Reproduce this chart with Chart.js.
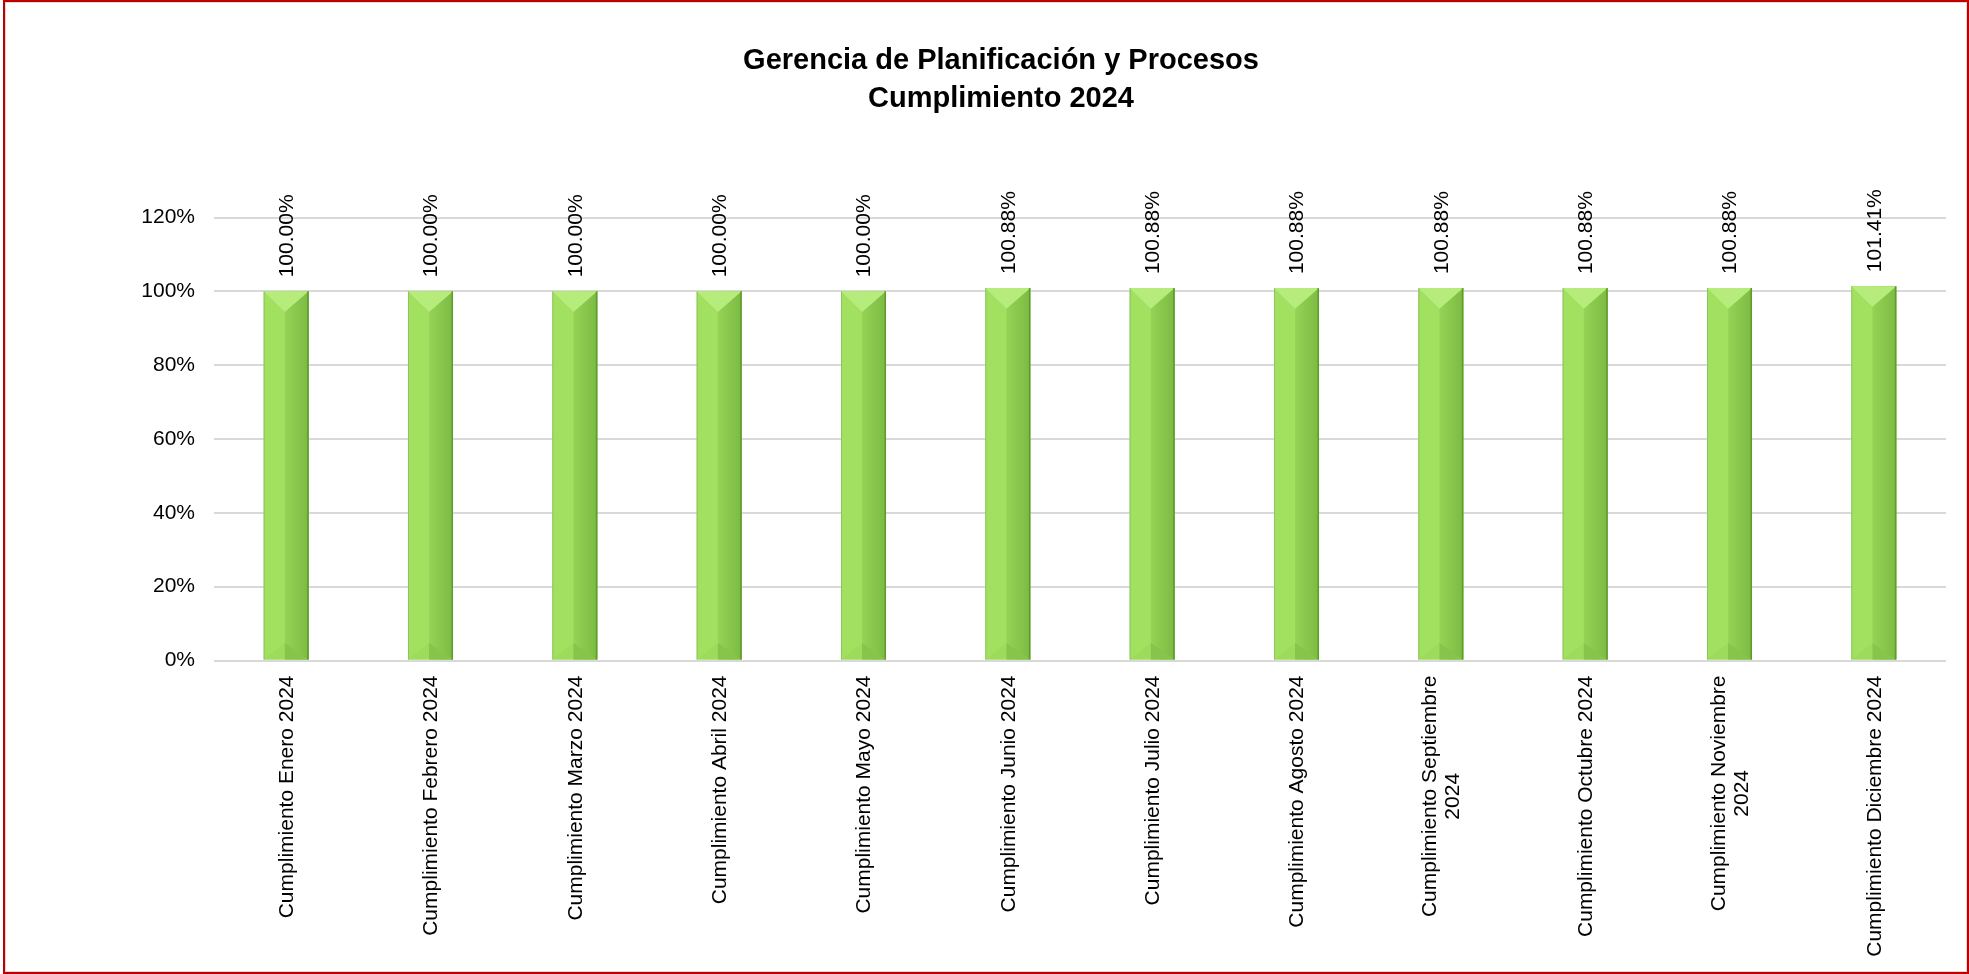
<!DOCTYPE html>
<html>
<head>
<meta charset="utf-8">
<title>Gerencia de Planificación y Procesos - Cumplimiento 2024</title>
<script src="https://cdn.jsdelivr.net/npm/chart.js@4"></script>
<style>
    html, body { margin: 0; padding: 0; background: #fff; }
    /* Marco rojo del gráfico */
    #marco {
        position: absolute; left: 3px; top: 0;
        width: 1962px; height: 970px;
        border: 2px solid #c00000;
        box-shadow: inset 1px 1px 0 #d9d9d9, inset -1px -1px 0 #d9d9d9;
    }
    #grafica { position: absolute; left: 0; top: 0; }
</style>
</head>
<body>
<div id="marco"></div>
<canvas id="grafica" width="1969" height="974"></canvas>
<script>
// Datos del gráfico
const titulo = ['Gerencia de Planificación y Procesos', 'Cumplimiento 2024'];
const categorias = [
    'Cumplimiento Enero 2024',
    'Cumplimiento Febrero 2024',
    'Cumplimiento Marzo 2024',
    'Cumplimiento Abril 2024',
    'Cumplimiento Mayo 2024',
    'Cumplimiento Junio 2024',
    'Cumplimiento Julio 2024',
    'Cumplimiento Agosto 2024',
    ['Cumplimiento Septiembre', '2024'],
    'Cumplimiento Octubre 2024',
    ['Cumplimiento Noviembre', '2024'],
    'Cumplimiento Diciembre 2024'
];
const valores = [100.00, 100.00, 100.00, 100.00, 100.00, 100.88, 100.88, 100.88, 100.88, 100.88, 100.88, 101.41];
const ejeYMin = 0;
const ejeYMax = 120;
const ejeYPaso = 20;

const fuente = "'Liberation Sans', Arial, sans-serif";
Chart.defaults.font.family = fuente;
Chart.defaults.color = '#000';

// Plugin: efecto bisel de las barras y etiquetas de datos rotadas
const biselBarras = {
    id: 'biselBarras',
    afterDatasetsDraw(chart) {
        const ctx = chart.ctx;
        const meta = chart.getDatasetMeta(0);
        meta.data.forEach((bar, i) => {
            const w = bar.width;
            const izq = bar.x - w / 2;
            const der = bar.x + w / 2;
            const arriba = bar.y;
            const abajo = bar.base;
            const centro = izq + w * 0.47;
            const pico = w * 0.46;

            ctx.save();
            // Cara derecha más oscura
            const grad = ctx.createLinearGradient(centro, 0, der, 0);
            grad.addColorStop(0, '#94d355');
            grad.addColorStop(1, '#7cba43');
            ctx.fillStyle = grad;
            ctx.fillRect(centro, arriba, der - centro, abajo - arriba);

            // Triángulo superior claro
            ctx.fillStyle = '#b6ec7c';
            ctx.beginPath();
            ctx.moveTo(izq, arriba);
            ctx.lineTo(der, arriba);
            ctx.lineTo(centro, arriba + pico);
            ctx.closePath();
            ctx.fill();

            // Triángulo inferior
            ctx.fillStyle = '#9ddb5c';
            ctx.beginPath();
            ctx.moveTo(izq, abajo);
            ctx.lineTo(centro, abajo - pico * 0.8);
            ctx.lineTo(centro, abajo);
            ctx.closePath();
            ctx.fill();
            ctx.fillStyle = '#86c44b';
            ctx.beginPath();
            ctx.moveTo(centro, abajo);
            ctx.lineTo(centro, abajo - pico * 0.8);
            ctx.lineTo(der, abajo);
            ctx.closePath();
            ctx.fill();

            // Bordes laterales
            ctx.strokeStyle = '#5f9a2e';
            ctx.lineWidth = 1.5;
            ctx.beginPath();
            ctx.moveTo(der - 0.75, arriba);
            ctx.lineTo(der - 0.75, abajo);
            ctx.stroke();
            ctx.strokeStyle = '#8fc264';
            ctx.lineWidth = 1;
            ctx.beginPath();
            ctx.moveTo(izq + 0.5, arriba);
            ctx.lineTo(izq + 0.5, abajo);
            ctx.stroke();

            // Etiqueta de datos (rotada)
            ctx.translate(bar.x + 1, arriba - 14);
            ctx.rotate(-Math.PI / 2);
            ctx.font = '21px ' + fuente;
            ctx.fillStyle = '#000';
            ctx.textAlign = 'left';
            ctx.textBaseline = 'middle';
            ctx.fillText(valores[i].toFixed(2) + '%', 0, 0);
            ctx.restore();
        });
    },
    afterDraw(chart) {
        // Etiquetas del eje X rotadas, con líneas centradas
        const ctx = chart.ctx;
        const escalaX = chart.scales.x;
        const alto = 23;
        ctx.save();
        ctx.font = '21px ' + fuente;
        ctx.fillStyle = '#000';
        ctx.textBaseline = 'middle';
        ctx.textAlign = 'center';
        categorias.forEach((cat, i) => {
            const lineas = Array.isArray(cat) ? cat : [cat];
            const ancho = Math.max(...lineas.map(l => ctx.measureText(l).width));
            const x = escalaX.getPixelForTick(i);
            ctx.save();
            ctx.translate(x + 1, escalaX.top + 15);
            ctx.rotate(-Math.PI / 2);
            lineas.forEach((l, j) => {
                ctx.fillText(l, -ancho / 2, (j - (lineas.length - 1) / 2) * alto);
            });
            ctx.restore();
        });
        ctx.restore();
    }
};

const ctx = document.getElementById('grafica').getContext('2d');
new Chart(ctx, {
    type: 'bar',
    data: {
        labels: categorias,
        datasets: [{
            data: valores,
            backgroundColor: '#a2e060',
            borderWidth: 0,
            categoryPercentage: 1,
            barPercentage: 0.312
        }]
    },
    options: {
        responsive: false,
        animation: false,
        layout: {
            padding: { left: 56, right: 23, top: 0, bottom: 0 }
        },
        plugins: {
            legend: { display: false },
            tooltip: { enabled: false },
            title: {
                display: true,
                text: titulo,
                color: '#000',
                font: { size: 29, weight: 'bold', lineHeight: 1.3 },
                padding: { top: 42, bottom: 100.1 }
            }
        },
        scales: {
            x: {
                grid: { display: false },
                border: { display: false },
                ticks: { display: false },
                afterFit: (escala) => { escala.height = 313.5; }
            },
            y: {
                min: ejeYMin,
                max: ejeYMax,
                ticks: {
                    stepSize: ejeYPaso,
                    padding: 19,
                    color: '#000',
                    font: { size: 21 },
                    callback: (v) => v + '%'
                },
                grid: { color: '#d9d9d9', lineWidth: 2, drawTicks: false },
                border: { display: false },
                afterFit: (escala) => { escala.width = 158; }
            }
        }
    },
    plugins: [biselBarras]
});
</script>
</body>
</html>
